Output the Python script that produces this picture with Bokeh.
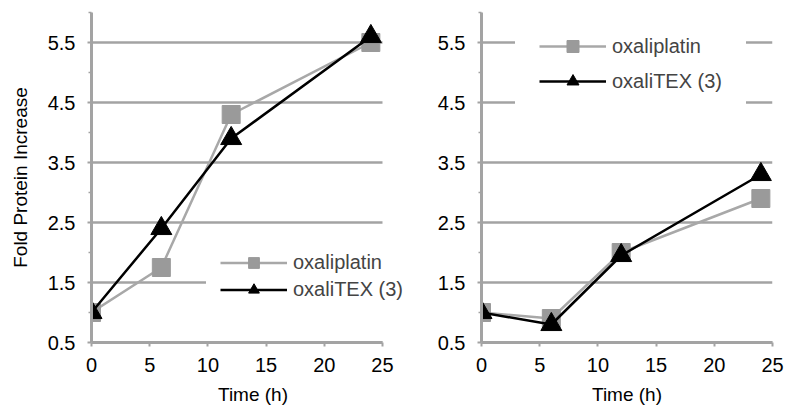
from bokeh.plotting import figure
from bokeh.models import FixedTicker, Legend, LegendItem, Range1d, Title
from bokeh.layouts import row
from bokeh.embed import file_html
from bokeh.resources import INLINE

# ---- data ----
time_h = [0, 6, 12, 24]
left_oxaliplatin = [1.0, 1.75, 4.3, 5.5]
left_oxalitex = [1.0, 2.4, 3.9, 5.6]
right_oxaliplatin = [1.0, 0.9, 2.0, 2.9]
right_oxalitex = [1.0, 0.8, 1.95, 3.3]
series_names = ["oxaliplatin", "oxaliTEX (3)"]
y_ticks = [0.5, 1.5, 2.5, 3.5, 4.5, 5.5]
y_minor_ticks = [1, 2, 3, 4, 5, 6]
x_ticks = [0, 5, 10, 15, 20, 25]
x_title = "Time (h)"
y_title = "Fold Protein Increase"

FONT = "Liberation Sans"
GRID = "#a3a3a3"
GRAY_LINE = "#a8a8a8"
GRAY_MARK = "#9a9a9a"
X_MIN, X_MAX = 0, 25


def make_panel(width, height, bl, br, bt, bb, x_end, plat, tex, ytitle,
               leg_loc, leg_pad, glyph_h, spacing, title_offset):
    p = figure(width=width, height=height, output_backend="svg", toolbar_location=None,
               x_range=Range1d(X_MIN, x_end), y_range=Range1d(0.5, 6.0),
               min_border_left=bl, min_border_right=br, min_border_top=bt, min_border_bottom=bb)
    p.outline_line_color = None
    p.background_fill_color = "white"
    p.border_fill_color = "white"

    p.xaxis.ticker = FixedTicker(ticks=x_ticks)
    p.xaxis.bounds = (X_MIN, X_MAX)
    p.yaxis.ticker = FixedTicker(ticks=y_ticks, minor_ticks=y_minor_ticks)
    for ax in (p.xaxis[0], p.yaxis[0]):
        ax.axis_line_color = GRID
        ax.axis_line_width = 3
        ax.major_tick_line_color = GRID
        ax.major_tick_line_width = 2
        ax.major_tick_in = 0
        ax.major_tick_out = 4
        ax.minor_tick_line_color = GRID
        ax.minor_tick_line_width = 1.5
        ax.minor_tick_in = 0
        ax.minor_tick_out = 3
        ax.major_label_text_font = FONT
        ax.major_label_text_font_size = "20px"
        ax.major_label_text_color = "black"
        ax.axis_label_text_font = FONT
        ax.axis_label_text_font_style = "normal"
        ax.axis_label_text_color = "black"
    p.xaxis.minor_tick_line_color = None
    p.xaxis.major_label_standoff = 11
    p.yaxis.major_label_standoff = 12
    if ytitle:
        p.yaxis.axis_label = ytitle
        p.yaxis.axis_label_text_font_size = "19px"
        p.yaxis.axis_label_standoff = 14

    # x-axis title, centred on the 0..25 axis span
    p.add_layout(Title(text=x_title, align="center", offset=title_offset,
                       text_font=FONT, text_font_size="19px", text_font_style="normal",
                       text_color="black", standoff=14), "below")

    # horizontal gridlines spanning the data x-extent only
    p.xgrid.grid_line_color = None
    p.ygrid.grid_line_color = None
    p.segment(x0=[X_MIN] * len(y_ticks), x1=[X_MAX] * len(y_ticks), y0=y_ticks, y1=y_ticks,
              line_color=GRID, line_width=2.5)

    l1 = p.line(time_h, plat, line_color=GRAY_LINE, line_width=2.5)
    s1 = p.scatter(time_h, plat, marker="square", size=18, fill_color=GRAY_MARK, line_color=GRAY_MARK)
    l2 = p.line(time_h, tex, line_color="black", line_width=2.5)
    s2 = p.scatter(time_h, tex, marker="triangle", size=21, fill_color="black", line_color="black")

    legend = Legend(items=[LegendItem(label=series_names[0], renderers=[l1, s1]),
                           LegendItem(label=series_names[1], renderers=[l2, s2])],
                    location=leg_loc, glyph_width=67, glyph_height=glyph_h, spacing=spacing,
                    padding=leg_pad, label_standoff=6, label_height=20,
                    label_text_font=FONT, label_text_font_size="20px",
                    border_line_alpha=0, background_fill_color="white", background_fill_alpha=1,
                    margin=0)
    p.add_layout(legend)
    return p


p1 = make_panel(415, 417, 91, 1, 12, 75, 27.75, left_oxaliplatin, left_oxalitex, y_title,
                (115, 25), 14, 27, 0, -16)
p2 = make_panel(372, 417, 66, 15, 4, 74, 25, right_oxaliplatin, right_oxalitex, None,
                (34, 222), 24, 30, 5, 0)

layout = row(p1, p2)
open("out.html", "w").write(file_html(layout, INLINE))
